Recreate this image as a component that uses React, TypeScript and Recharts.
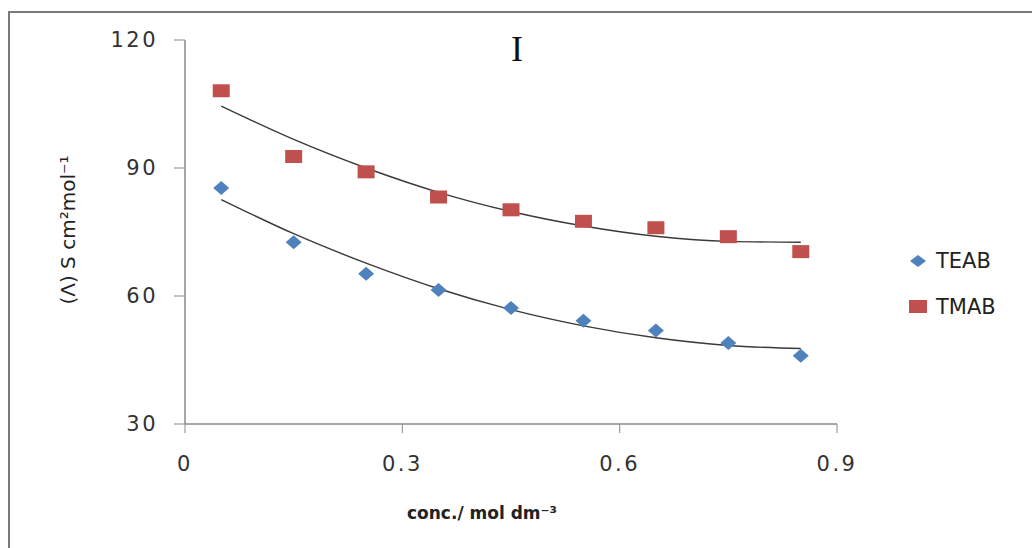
import React from 'react';
import { ComposedChart, Line, XAxis, YAxis } from 'recharts';

// concentration (mol dm^-3)
const conc = [0.05, 0.15, 0.25, 0.35, 0.45, 0.55, 0.65, 0.75, 0.85];
// molar conductance
const teab = [85.3, 72.6, 65.2, 61.4, 57.2, 54.2, 51.9, 49.0, 46.0];
const tmab = [108.1, 92.7, 89.1, 83.2, 80.2, 77.5, 76.0, 73.9, 70.4];
// polynomial trend lines as drawn in the figure
const teabTrend = [82.6, 74.6, 67.7, 61.7, 56.8, 53.0, 50.2, 48.4, 47.7];
const tmabTrend = [104.5, 96.7, 90.0, 84.3, 79.8, 76.4, 74.0, 72.8, 72.6];

const xTicks = [0, 0.3, 0.6, 0.9];
const yTicks = [30, 60, 90, 120];

const rows = conc.map((x, i) => ({
  x,
  TEAB: teab[i],
  TMAB: tmab[i],
  teabFit: teabTrend[i],
  tmabFit: tmabTrend[i],
}));

const BLUE = '#4F81BD';
const RED = '#C0504D';
const AXIS = '#8a8a8a';
const FONT = '"DejaVu Sans", sans-serif';

const Diamond = (props: any) => {
  const { cx, cy } = props;
  if (cx == null || cy == null) return null;
  return (
    <path
      d={`M${cx} ${cy - 7} L${cx + 8} ${cy} L${cx} ${cy + 7} L${cx - 8} ${cy} Z`}
      fill={BLUE}
    />
  );
};

const Square = (props: any) => {
  const { cx, cy } = props;
  if (cx == null || cy == null) return null;
  return <rect x={cx - 8.5} y={cy - 6.5} width={17} height={13} fill={RED} />;
};

const LegendBox = () => (
  <div style={{ fontFamily: FONT, fontSize: 21, color: '#222' }}>
    <div style={{ display: 'flex', alignItems: 'center', height: 24 }}>
      <svg width={18} height={16} style={{ marginRight: 9 }}>
        <path d="M9 2 L17 8 L9 14 L1 8 Z" fill={BLUE} />
      </svg>
      TEAB
    </div>
    <div style={{ display: 'flex', alignItems: 'center', height: 24, marginTop: 22 }}>
      <svg width={18} height={16} style={{ marginRight: 9 }}>
        <rect x={0} y={1} width={18} height={13} fill={RED} />
      </svg>
      TMAB
    </div>
  </div>
);

const tickStyle = { fontFamily: FONT, fontSize: 21, fill: '#333', letterSpacing: 2.5 };

export default function App() {
  return (
    <div style={{ position: 'relative', width: 1032, height: 548, overflow: 'hidden', background: '#fff' }}>
      <style>{'body{margin:0;overflow:hidden}'}</style>
      <div
        style={{
          position: 'absolute',
          left: 8,
          top: 11,
          width: 1060,
          height: 535,
          borderLeft: '2px solid #7a7a7a',
          borderTop: '2px solid #7a7a7a',
          borderBottom: '2px solid #9a9a9a',
        }}
      />
      <ComposedChart
        width={1032}
        height={548}
        data={rows}
        margin={{ top: 40, right: 195, bottom: 94, left: 0 }}
        style={{ position: 'absolute', left: 0, top: 0 }}
      >
        <XAxis
          dataKey="x"
          type="number"
          domain={[0, 0.9]}
          ticks={xTicks}
          height={30}
          tickSize={9}
          tickMargin={23}
          axisLine={{ stroke: AXIS, strokeWidth: 1.5 }}
          tickLine={{ stroke: AXIS }}
          tick={tickStyle}
        />
        <YAxis
          type="number"
          domain={[30, 120]}
          ticks={yTicks}
          width={185}
          tickSize={11}
          tickMargin={16}
          axisLine={{ stroke: AXIS, strokeWidth: 1.5 }}
          tickLine={{ stroke: AXIS }}
          tick={tickStyle}
        />
        <Line
          dataKey="teabFit"
          type="monotone"
          stroke="#3a3a3a"
          strokeWidth={1.4}
          dot={false}
          isAnimationActive={false}
        />
        <Line
          dataKey="tmabFit"
          type="monotone"
          stroke="#3a3a3a"
          strokeWidth={1.4}
          dot={false}
          isAnimationActive={false}
        />
        <Line
          dataKey="TEAB"
          stroke="none"
          dot={<Diamond />}
          activeDot={false}
          isAnimationActive={false}
        />
        <Line
          dataKey="TMAB"
          stroke="none"
          dot={<Square />}
          activeDot={false}
          isAnimationActive={false}
        />
      </ComposedChart>
      <div style={{ position: 'absolute', left: 909, top: 249 }}>
        <LegendBox />
      </div>
      <div
        style={{
          position: 'absolute',
          left: 497,
          top: 28,
          width: 40,
          textAlign: 'center',
          fontFamily: '"Liberation Serif", serif',
          fontSize: 36,
          color: '#111',
        }}
      >
        I
      </div>
      <div
        style={{
          position: 'absolute',
          left: 68,
          top: 230,
          transform: 'translate(-50%, -50%) rotate(-90deg)',
          whiteSpace: 'nowrap',
          fontFamily: FONT,
          fontSize: 20,
          color: '#222',
        }}
      >
        (Λ) S cm²mol⁻¹
      </div>
      <div
        style={{
          position: 'absolute',
          left: 482,
          top: 513,
          transform: 'translate(-50%, -50%)',
          whiteSpace: 'nowrap',
          fontFamily: FONT,
          fontWeight: 'bold',
          fontSize: 17,
          color: '#222',
        }}
      >
        conc./ mol dm⁻³
      </div>
    </div>
  );
}
